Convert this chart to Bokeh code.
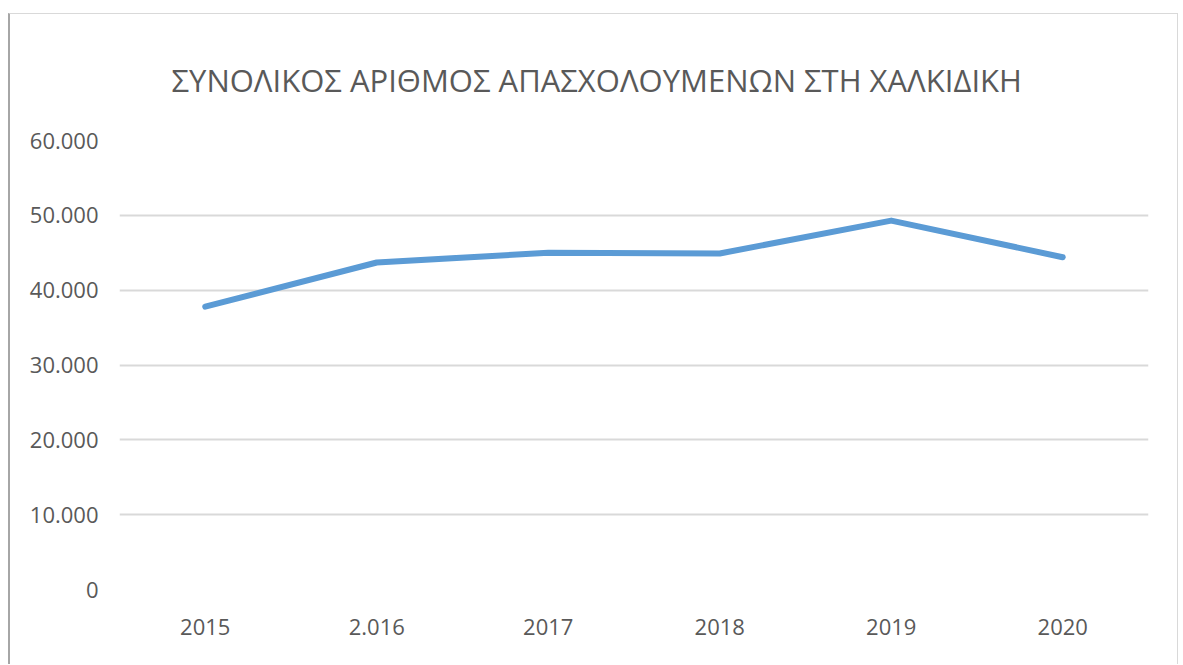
from bokeh.plotting import figure
from bokeh.models import FactorRange, Range1d, FixedTicker
from bokeh.embed import file_html
from bokeh.resources import INLINE

title_text = "ΣΥΝΟΛΙΚΟΣ ΑΡΙΘΜΟΣ ΑΠΑΣΧΟΛΟΥΜΕΝΩΝ ΣΤΗ ΧΑΛΚΙΔΙΚΗ"
years = ["2015", "2.016", "2017", "2018", "2019", "2020"]
employed = [37800, 43700, 45000, 44900, 49300, 44400]
y_ticks = [0, 10000, 20000, 30000, 40000, 50000, 60000]
y_tick_labels = ["0", "10.000", "20.000", "30.000", "40.000", "50.000", "60.000"]

FONT = "'Open Sans', sans-serif"
GRAY = "#595959"

p = figure(width=1170, height=651, output_backend="svg", toolbar_location=None,
           x_range=FactorRange(factors=years), y_range=Range1d(0, 60000),
           min_border_left=109, min_border_right=32, min_border_top=126,
           min_border_bottom=76)
p.styles = {"border-left": "2px solid #a6a6a6", "border-top": "1px solid #d9d9d9",
            "border-right": "1px solid #d9d9d9", "margin-top": "13px",
            "margin-left": "8px"}

p.title.text = title_text
p.title.align = "left"
p.title.offset = 52
p.title.standoff = 80
p.title.text_font = FONT
p.title.text_font_style = "normal"
p.title.text_font_size = "31px"
p.title.text_color = GRAY

p.outline_line_color = None
p.background_fill_color = "white"
p.border_fill_color = "white"

p.xgrid.grid_line_color = None
p.ygrid.grid_line_color = "#d9d9d9"
p.ygrid.grid_line_width = 2

p.yaxis.ticker = FixedTicker(ticks=y_ticks)
p.yaxis.major_label_overrides = {t: l for t, l in zip(y_ticks, y_tick_labels)}
for ax in (p.xaxis, p.yaxis):
    ax.axis_line_color = None
    ax.major_tick_line_color = None
    ax.minor_tick_line_color = None
    ax.major_tick_out = 0
    ax.major_tick_in = 0
    ax.major_label_text_font = FONT
    ax.major_label_text_font_size = "22px"
    ax.major_label_text_color = GRAY
p.yaxis.major_label_standoff = 21
p.xaxis.major_label_standoff = 29

p.line(x=years, y=employed, line_color="#5b9bd5", line_width=6,
       line_join="round", line_cap="round")

open("out.html", "w").write(file_html(p, INLINE))
